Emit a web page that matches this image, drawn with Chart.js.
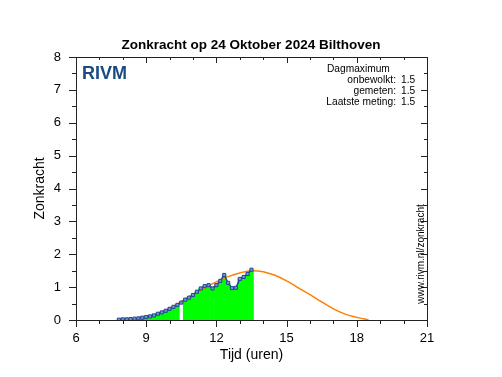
<!DOCTYPE html>
<html>
<head>
<meta charset="utf-8">
<script src="https://cdn.jsdelivr.net/npm/chart.js@4"></script>
<style>
  html, body { margin: 0; padding: 0; background: #fff; }
  #wrap { width: 502px; height: 377px; }
</style>
</head>
<body>
<div id="wrap"><canvas id="chart" width="502" height="377"></canvas></div>
<script>
"use strict"

/*====================================================================
Data
====================================================================*/
// measured UV-index (every 10 minutes)
var tijdenGemeten = ["07:50","08:00","08:10","08:20","08:30","08:40","08:50",
    "09:00","09:10","09:20","09:30","09:40","09:50",
    "10:00","10:10","10:20","10:30","10:40","10:50",
    "11:00","11:10","11:20","11:30","11:40","11:50",
    "12:00","12:10","12:20","12:30","12:40","12:50",
    "13:00","13:10","13:20","13:30"]
var gemeten = [0.01, 0.02, 0.02, 0.03, 0.04, 0.05, 0.07,
    0.09, 0.11, 0.14, 0.19, 0.23, 0.28,
    0.34, 0.40, 0.46, 0.53, 0.62, 0.68,
    0.76, 0.86, 0.96, 1.03, 1.06, 0.96,
    1.06, 1.19, 1.37, 1.13, 0.97, 0.98,
    1.25, 1.31, 1.40, 1.53]
// interval without green bar
var ontbrekend = ["10:30"]

// clear sky model (onbewolkt)
var tijdenModel = ["08:00","08:30","09:00","09:30","10:00","10:30","11:00","11:30",
    "12:00","12:30","13:00","13:30","14:00","14:30","15:00","15:30",
    "16:00","16:30","17:00","17:30","18:00","18:30"]
var onbewolkt = [0.01, 0.04, 0.11, 0.20, 0.36, 0.56, 0.78, 0.98,
    1.16, 1.32, 1.43, 1.50, 1.47, 1.36, 1.19, 0.98,
    0.77, 0.55, 0.34, 0.18, 0.08, 0.01]

var xTicks = [6, 9, 12, 15, 18, 21]
var yTicks = [0, 1, 2, 3, 4, 5, 6, 7, 8]

var titel = "Zonkracht op 24 Oktober 2024 Bilthoven"
var infoLabels = ["onbewolkt:", "gemeten:", "Laatste meting:"]
var infoWaarden = ["1.5", "1.5", "1.5"]

/*====================================================================
Functions
====================================================================*/
function uren(t) {
    var p = t.split(":")
    return Number(p[0]) + Number(p[1]) / 60
}

var puntenGemeten = tijdenGemeten.map((t, i) => ({x: uren(t), y: gemeten[i]}))
var puntenGroen = tijdenGemeten.map((t, i) => ({x: uren(t), y: ontbrekend.includes(t) ? null : gemeten[i]}))
var puntenModel = tijdenModel.map((t, i) => ({x: uren(t), y: onbewolkt[i]}))

var FONT = "'Liberation Sans', Arial, sans-serif"

// frame, tick marks and texts inside the plot
var extras = {
    id: "extras",
    afterDraw(chart) {
        var ctx = chart.ctx
        var a = chart.chartArea
        var sx = chart.scales.x
        var sy = chart.scales.y
        ctx.save()
        ctx.strokeStyle = "#222"
        ctx.lineWidth = 1
        ctx.beginPath()
        // x ticks (hours), bottom outward, top inward
        for (var h = 6; h <= 21; h++) {
            var px = Math.round(sx.getPixelForValue(h)) + 0.5
            var len = xTicks.includes(h) ? 7 : 4
            ctx.moveTo(px, a.bottom); ctx.lineTo(px, a.bottom + len)
            ctx.moveTo(px, a.top); ctx.lineTo(px, a.top + len - 1)
        }
        // y ticks (half units), left outward, right inward
        for (var v = 0; v <= 8; v += 0.5) {
            var py = Math.round(sy.getPixelForValue(v)) + 0.5
            var l2 = yTicks.includes(v) ? 7 : 4
            ctx.moveTo(a.left - l2, py); ctx.lineTo(a.left, py)
            ctx.moveTo(a.right, py); ctx.lineTo(a.right - l2 + 1, py)
        }
        ctx.stroke()
        ctx.strokeRect(Math.round(a.left) + 0.5, Math.round(a.top) + 0.5,
            Math.round(a.right - a.left), Math.round(a.bottom - a.top))

        // logo text
        ctx.fillStyle = "#1b4a82"
        ctx.font = "bold 18px " + FONT
        ctx.textBaseline = "alphabetic"
        ctx.textAlign = "left"
        ctx.fillText("RIVM", a.left + 6, a.top + 22)

        // day maximum block
        ctx.fillStyle = "#000"
        ctx.font = "10.2px " + FONT
        ctx.textBaseline = "middle"
        ctx.fillText("Dagmaximum", 327, 69)
        for (var i = 0; i < infoLabels.length; i++) {
            ctx.textAlign = "right"
            ctx.fillText(infoLabels[i], 396, 80 + i * 11)
            ctx.textAlign = "left"
            ctx.fillText(infoWaarden[i], 401, 80 + i * 11)
        }

        // vertical url
        ctx.translate(421, 254)
        ctx.rotate(-Math.PI / 2)
        ctx.textAlign = "center"
        ctx.font = "10px " + FONT
        ctx.fillText("www.rivm.nl/zonkracht", 0, 0)
        ctx.restore()
    }
}

var newChart = new Chart(document.getElementById("chart"), {
    type: "line",
    data: {
        datasets: [
            {label: "gemeten", data: puntenGemeten, order: 0,
                borderColor: "#22479a", borderWidth: 1.5,
                pointStyle: "rect", pointRadius: 2.2,
                pointBackgroundColor: "#7d95c8", pointBorderColor: "#22479a", pointBorderWidth: 1},
            {label: "onbewolkt", data: puntenModel, order: 1,
                borderColor: "#ff8000", borderWidth: 1.5, pointRadius: 0,
                cubicInterpolationMode: "monotone"},
            {type: "bar", label: "groen", data: puntenGroen, order: 2,
                backgroundColor: "#00ff00", borderWidth: 0,
                barPercentage: 1, categoryPercentage: 1}
        ]
    },
    options: {
        responsive: false,
        animation: false,
        events: [],
        layout: {padding: 0},
        plugins: {
            legend: {display: false},
            tooltip: {enabled: false},
            title: {display: true, text: titel, color: "#000",
                font: {family: FONT, size: 13.5, weight: "bold"},
                padding: {top: 37, bottom: 3.8}}
        },
        scales: {
            x: {type: "linear", min: 6, max: 21, offset: false,
                afterFit: s => { s.height = 57 },
                afterBuildTicks: s => { s.ticks = xTicks.map(v => ({value: v})) },
                grid: {display: false, tickLength: 7},
                border: {display: false},
                ticks: {color: "#000", font: {family: FONT, size: 13}, padding: 4, maxRotation: 0},
                title: {display: true, text: "Tijd (uren)", color: "#000",
                    font: {family: FONT, size: 14}, padding: {top: 0, bottom: 13.6}}},
            y: {min: 0, max: 8,
                afterFit: s => { s.width = 76 },
                afterBuildTicks: s => { s.ticks = yTicks.map(v => ({value: v})) },
                grid: {display: false, tickLength: 7},
                border: {display: false},
                ticks: {color: "#000", font: {family: FONT, size: 13}, padding: 8},
                title: {display: true, text: "Zonkracht", color: "#000",
                    font: {family: FONT, size: 14}, padding: {top: 31.6, bottom: 0}}},
            // empty right margin so the title centres over the whole canvas
            rechts: {position: "right", min: 0, max: 8,
                afterFit: s => { s.width = 75 },
                grid: {display: false, drawTicks: false},
                border: {display: false},
                ticks: {display: false}}
        }
    },
    plugins: [extras]
})
</script>
</body>
</html>
